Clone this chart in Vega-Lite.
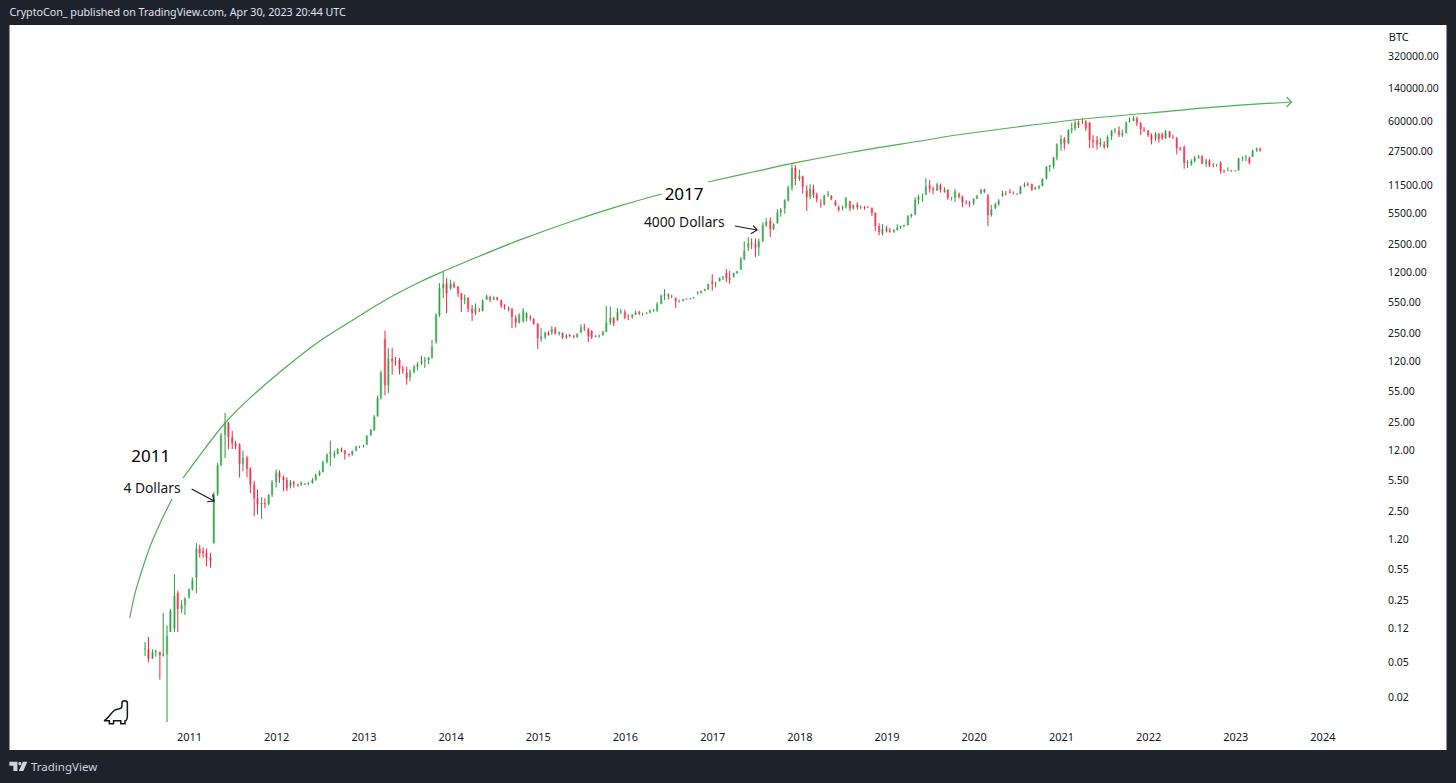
{
"$schema":"https://vega.github.io/schema/vega-lite/v6.json",
"description":"BTC weekly-style OHLC bars on a log scale with a curved top trendline",
"width":1437,"height":725,
"autosize":{"type":"none"},
"padding":{"left":9.5,"top":25,"right":9.5,"bottom":33},
"background":"#1e222d",
"config":{"view":{"fill":"white","stroke":null},"font":"Noto Sans"},
"title":{"text":"CryptoCon_ published on TradingView.com, Apr 30, 2023 20:44 UTC","anchor":"start","frame":"group","offset":6,"font":"Noto Sans","fontSize":10.7,"fontWeight":"normal","color":"#e0e3eb"},
"data":{"values":[
{"d":"2010-07-01","o":0.07,"h":0.085,"l":0.059,"c":0.072},
{"d":"2010-07-15","o":0.07,"h":0.097,"l":0.05,"c":0.055},
{"d":"2010-08-01","o":0.055,"h":0.07,"l":0.055,"c":0.065},
{"d":"2010-08-15","o":0.065,"h":0.07,"l":0.058,"c":0.067},
{"d":"2010-09-01","o":0.066,"h":0.066,"l":0.032,"c":0.06},
{"d":"2010-09-15","o":0.06,"h":0.18,"l":0.058,"c":0.062},
{"d":"2010-10-01","o":0.062,"h":0.13,"l":0.0107,"c":0.1},
{"d":"2010-10-15","o":0.11,"h":0.2,"l":0.11,"c":0.19},
{"d":"2010-11-01","o":0.12,"h":0.49,"l":0.11,"c":0.28},
{"d":"2010-11-15","o":0.3,"h":0.32,"l":0.11,"c":0.2},
{"d":"2010-12-01","o":0.2,"h":0.25,"l":0.18,"c":0.22},
{"d":"2010-12-15","o":0.22,"h":0.27,"l":0.17,"c":0.26},
{"d":"2011-01-01","o":0.27,"h":0.34,"l":0.26,"c":0.33},
{"d":"2011-01-15","o":0.33,"h":0.45,"l":0.32,"c":0.42},
{"d":"2011-02-01","o":0.45,"h":1.1,"l":0.3,"c":0.95},
{"d":"2011-02-15","o":0.95,"h":1.05,"l":0.75,"c":0.85},
{"d":"2011-03-01","o":0.9,"h":0.98,"l":0.75,"c":0.85},
{"d":"2011-03-15","o":0.85,"h":0.95,"l":0.6,"c":0.75},
{"d":"2011-04-01","o":0.75,"h":0.85,"l":0.58,"c":0.7},
{"d":"2011-04-15","o":1.1,"h":4.1,"l":1.08,"c":3.9},
{"d":"2011-05-01","o":3.9,"h":8.7,"l":3.7,"c":8.2},
{"d":"2011-05-15","o":8.2,"h":19,"l":8,"c":18},
{"d":"2011-06-01","o":18,"h":31.9,"l":9.9,"c":25},
{"d":"2011-06-15","o":25,"h":25,"l":12.4,"c":17},
{"d":"2011-07-01","o":17,"h":20,"l":12.5,"c":14.5},
{"d":"2011-07-15","o":14.5,"h":15.5,"l":12.5,"c":13.5},
{"d":"2011-08-01","o":14,"h":14.5,"l":6,"c":8.5},
{"d":"2011-08-15","o":8.5,"h":12,"l":7,"c":10},
{"d":"2011-09-01","o":10,"h":10.5,"l":6,"c":7.5},
{"d":"2011-09-15","o":7.5,"h":7.8,"l":4,"c":5},
{"d":"2011-10-01","o":5,"h":5.5,"l":2.2,"c":3.5},
{"d":"2011-10-15","o":3.5,"h":4.4,"l":2.3,"c":3},
{"d":"2011-11-01","o":3,"h":3.6,"l":2.05,"c":3.1},
{"d":"2011-11-15","o":3.1,"h":3.5,"l":2.7,"c":3},
{"d":"2011-12-01","o":3,"h":3.9,"l":2.9,"c":3.8},
{"d":"2011-12-15","o":3.8,"h":5.6,"l":3.6,"c":5.3},
{"d":"2012-01-01","o":5.3,"h":7.4,"l":4.6,"c":6.8},
{"d":"2012-01-15","o":6.8,"h":7.2,"l":5.2,"c":6},
{"d":"2012-02-01","o":6,"h":6.3,"l":4.2,"c":5.6},
{"d":"2012-02-15","o":5.6,"h":6,"l":4.2,"c":4.5},
{"d":"2012-03-01","o":4.8,"h":5.6,"l":4.5,"c":5.3},
{"d":"2012-03-15","o":5.3,"h":5.5,"l":4.6,"c":5},
{"d":"2012-04-01","o":4.9,"h":5.1,"l":4.7,"c":5},
{"d":"2012-04-15","o":5,"h":5.4,"l":4.8,"c":5.2},
{"d":"2012-05-01","o":5,"h":5.2,"l":4.9,"c":5.1},
{"d":"2012-05-15","o":5.1,"h":5.3,"l":4.9,"c":5.2},
{"d":"2012-06-01","o":5.2,"h":5.9,"l":5.1,"c":5.6},
{"d":"2012-06-15","o":5.6,"h":6.6,"l":5.5,"c":6.4},
{"d":"2012-07-01","o":6.4,"h":7.2,"l":6.2,"c":6.9},
{"d":"2012-07-15","o":6.9,"h":9.3,"l":6.8,"c":8.9},
{"d":"2012-08-01","o":8.9,"h":11.2,"l":8.6,"c":10.8},
{"d":"2012-08-15","o":11,"h":15.5,"l":8,"c":11.5},
{"d":"2012-09-01","o":10.5,"h":12,"l":9.9,"c":11},
{"d":"2012-09-15","o":11,"h":12.8,"l":10.9,"c":12.4},
{"d":"2012-10-01","o":12.4,"h":13,"l":11.5,"c":12},
{"d":"2012-10-15","o":12,"h":12.2,"l":9.5,"c":11},
{"d":"2012-11-01","o":11,"h":11.2,"l":10.2,"c":10.8},
{"d":"2012-11-15","o":10.8,"h":12,"l":10.5,"c":11.8},
{"d":"2012-12-01","o":12,"h":13.6,"l":11.8,"c":13.3},
{"d":"2012-12-15","o":13.3,"h":13.6,"l":12.8,"c":13.4},
{"d":"2013-01-01","o":13.4,"h":14,"l":13,"c":13.6},
{"d":"2013-01-15","o":14,"h":18,"l":13.8,"c":17.5},
{"d":"2013-02-01","o":18,"h":21,"l":17.5,"c":20.5},
{"d":"2013-02-15","o":20.5,"h":30,"l":20,"c":29},
{"d":"2013-03-01","o":29,"h":50,"l":29,"c":47},
{"d":"2013-03-15","o":47,"h":95,"l":45,"c":90},
{"d":"2013-04-01","o":215,"h":266,"l":50,"c":65},
{"d":"2013-04-15","o":65,"h":170,"l":53,"c":130},
{"d":"2013-05-01","o":130,"h":170,"l":85,"c":120},
{"d":"2013-05-15","o":120,"h":135,"l":108,"c":118},
{"d":"2013-06-01","o":125,"h":132,"l":86,"c":100},
{"d":"2013-06-15","o":100,"h":108,"l":88,"c":95},
{"d":"2013-07-01","o":90,"h":105,"l":66,"c":78},
{"d":"2013-07-15","o":80,"h":98,"l":72,"c":92},
{"d":"2013-08-01","o":92,"h":110,"l":88,"c":105},
{"d":"2013-08-15","o":105,"h":118,"l":95,"c":112},
{"d":"2013-09-01","o":115,"h":140,"l":110,"c":122},
{"d":"2013-09-15","o":122,"h":135,"l":102,"c":125},
{"d":"2013-10-01","o":125,"h":135,"l":112,"c":132},
{"d":"2013-10-15","o":132,"h":210,"l":130,"c":175},
{"d":"2013-11-01","o":200,"h":420,"l":190,"c":400},
{"d":"2013-11-15","o":400,"h":916,"l":380,"c":800},
{"d":"2013-12-01","o":800,"h":1219,"l":620,"c":900},
{"d":"2013-12-15","o":900,"h":1050,"l":422,"c":700},
{"d":"2014-01-01","o":800,"h":1000,"l":770,"c":900},
{"d":"2014-01-15","o":900,"h":950,"l":800,"c":830},
{"d":"2014-02-01","o":830,"h":850,"l":640,"c":700},
{"d":"2014-02-15","o":700,"h":710,"l":433,"c":600},
{"d":"2014-03-01","o":600,"h":680,"l":530,"c":620},
{"d":"2014-03-15","o":620,"h":640,"l":433,"c":470},
{"d":"2014-04-01","o":470,"h":520,"l":343,"c":420},
{"d":"2014-04-15","o":420,"h":540,"l":400,"c":480},
{"d":"2014-05-01","o":450,"h":480,"l":433,"c":445},
{"d":"2014-05-15","o":445,"h":600,"l":440,"c":580},
{"d":"2014-06-01","o":600,"h":680,"l":590,"c":650},
{"d":"2014-06-15","o":640,"h":660,"l":560,"c":590},
{"d":"2014-07-01","o":600,"h":650,"l":590,"c":630},
{"d":"2014-07-15","o":630,"h":640,"l":580,"c":600},
{"d":"2014-08-01","o":590,"h":600,"l":480,"c":510},
{"d":"2014-08-15","o":510,"h":530,"l":460,"c":500},
{"d":"2014-09-01","o":480,"h":500,"l":440,"c":470},
{"d":"2014-09-15","o":470,"h":480,"l":286,"c":380},
{"d":"2014-10-01","o":370,"h":400,"l":290,"c":330},
{"d":"2014-10-15","o":330,"h":420,"l":320,"c":400},
{"d":"2014-11-01","o":340,"h":480,"l":330,"c":450},
{"d":"2014-11-15","o":370,"h":430,"l":340,"c":420},
{"d":"2014-12-01","o":380,"h":400,"l":345,"c":370},
{"d":"2014-12-15","o":360,"h":370,"l":310,"c":320},
{"d":"2015-01-01","o":320,"h":325,"l":166,"c":220},
{"d":"2015-01-15","o":215,"h":285,"l":200,"c":230},
{"d":"2015-02-01","o":225,"h":260,"l":215,"c":255},
{"d":"2015-02-15","o":250,"h":265,"l":235,"c":240},
{"d":"2015-03-01","o":255,"h":300,"l":240,"c":280},
{"d":"2015-03-15","o":280,"h":295,"l":240,"c":250},
{"d":"2015-04-01","o":245,"h":262,"l":235,"c":255},
{"d":"2015-04-15","o":250,"h":255,"l":215,"c":225},
{"d":"2015-05-01","o":225,"h":245,"l":215,"c":235},
{"d":"2015-05-15","o":238,"h":245,"l":225,"c":232},
{"d":"2015-06-01","o":230,"h":240,"l":220,"c":225},
{"d":"2015-06-15","o":226,"h":250,"l":222,"c":245},
{"d":"2015-07-01","o":255,"h":315,"l":250,"c":290},
{"d":"2015-07-15","o":290,"h":320,"l":265,"c":285},
{"d":"2015-08-01","o":280,"h":285,"l":199,"c":230},
{"d":"2015-08-15","o":265,"h":270,"l":215,"c":225},
{"d":"2015-09-01","o":228,"h":240,"l":225,"c":232},
{"d":"2015-09-15","o":232,"h":240,"l":222,"c":236},
{"d":"2015-10-01","o":237,"h":265,"l":235,"c":260},
{"d":"2015-10-15","o":260,"h":506,"l":258,"c":330},
{"d":"2015-11-01","o":330,"h":500,"l":310,"c":370},
{"d":"2015-11-15","o":370,"h":380,"l":300,"c":320},
{"d":"2015-12-01","o":350,"h":480,"l":345,"c":430},
{"d":"2015-12-15","o":430,"h":470,"l":410,"c":440},
{"d":"2016-01-01","o":430,"h":460,"l":360,"c":375},
{"d":"2016-01-15","o":385,"h":410,"l":350,"c":380},
{"d":"2016-02-01","o":375,"h":410,"l":365,"c":405},
{"d":"2016-02-15","o":405,"h":450,"l":400,"c":430},
{"d":"2016-03-01","o":435,"h":445,"l":400,"c":415},
{"d":"2016-03-15","o":415,"h":425,"l":395,"c":415},
{"d":"2016-04-01","o":416,"h":430,"l":410,"c":425},
{"d":"2016-04-15","o":425,"h":460,"l":420,"c":450},
{"d":"2016-05-01","o":450,"h":470,"l":435,"c":455},
{"d":"2016-05-15","o":450,"h":560,"l":433,"c":530},
{"d":"2016-06-01","o":530,"h":680,"l":530,"c":660},
{"d":"2016-06-15","o":660,"h":780,"l":590,"c":680},
{"d":"2016-07-01","o":680,"h":700,"l":600,"c":650},
{"d":"2016-07-15","o":650,"h":680,"l":620,"c":660},
{"d":"2016-08-01","o":620,"h":630,"l":480,"c":570},
{"d":"2016-08-15","o":570,"h":600,"l":550,"c":575},
{"d":"2016-09-01","o":575,"h":610,"l":570,"c":600},
{"d":"2016-09-15","o":600,"h":615,"l":595,"c":610},
{"d":"2016-10-01","o":605,"h":625,"l":600,"c":620},
{"d":"2016-10-15","o":620,"h":640,"l":610,"c":630},
{"d":"2016-11-01","o":700,"h":745,"l":680,"c":715},
{"d":"2016-11-15","o":715,"h":760,"l":695,"c":745},
{"d":"2016-12-01","o":750,"h":790,"l":745,"c":775},
{"d":"2016-12-15","o":775,"h":900,"l":770,"c":890},
{"d":"2017-01-01","o":960,"h":1150,"l":750,"c":900},
{"d":"2017-01-15","o":900,"h":950,"l":820,"c":920},
{"d":"2017-02-01","o":970,"h":1060,"l":950,"c":1040},
{"d":"2017-02-15","o":1040,"h":1100,"l":990,"c":1080},
{"d":"2017-03-01","o":1190,"h":1318,"l":942,"c":1040},
{"d":"2017-03-15","o":1040,"h":1250,"l":900,"c":1000},
{"d":"2017-04-01","o":1080,"h":1200,"l":1050,"c":1180},
{"d":"2017-04-15","o":1180,"h":1260,"l":1160,"c":1240},
{"d":"2017-05-01","o":1300,"h":1800,"l":1280,"c":1700},
{"d":"2017-05-15","o":1700,"h":2700,"l":1650,"c":2100},
{"d":"2017-06-01","o":2300,"h":2980,"l":2100,"c":2550},
{"d":"2017-06-15","o":2550,"h":2900,"l":2200,"c":2500},
{"d":"2017-07-01","o":2500,"h":2900,"l":1800,"c":2300},
{"d":"2017-07-15","o":2300,"h":2900,"l":1850,"c":2700},
{"d":"2017-08-01","o":2700,"h":4400,"l":2650,"c":4100},
{"d":"2017-08-15","o":4100,"h":4900,"l":3900,"c":4500},
{"d":"2017-09-01","o":4600,"h":5000,"l":3000,"c":3700},
{"d":"2017-09-15","o":3700,"h":4300,"l":3600,"c":4200},
{"d":"2017-10-01","o":4300,"h":6200,"l":4250,"c":5700},
{"d":"2017-10-15","o":5700,"h":6400,"l":5100,"c":6100},
{"d":"2017-11-01","o":6400,"h":8000,"l":5500,"c":7800},
{"d":"2017-11-15","o":7800,"h":11400,"l":7500,"c":10800},
{"d":"2017-12-01","o":10800,"h":19800,"l":10000,"c":18000},
{"d":"2017-12-15","o":18000,"h":19400,"l":11500,"c":13500},
{"d":"2018-01-01","o":13500,"h":17200,"l":12800,"c":14500},
{"d":"2018-01-15","o":14500,"h":14700,"l":9200,"c":11000},
{"d":"2018-02-01","o":10000,"h":11500,"l":5900,"c":8500},
{"d":"2018-02-15","o":8500,"h":11800,"l":8000,"c":10500},
{"d":"2018-03-01","o":10500,"h":11700,"l":8300,"c":9000},
{"d":"2018-03-15","o":9000,"h":9500,"l":7400,"c":8000},
{"d":"2018-04-01","o":7000,"h":8000,"l":6400,"c":6900},
{"d":"2018-04-15","o":7000,"h":9000,"l":6800,"c":8800},
{"d":"2018-05-01","o":9000,"h":9900,"l":8500,"c":9200},
{"d":"2018-05-15","o":8700,"h":8900,"l":7800,"c":8000},
{"d":"2018-06-01","o":7500,"h":7800,"l":6700,"c":6800},
{"d":"2018-06-15","o":6500,"h":6800,"l":5800,"c":6100},
{"d":"2018-07-01","o":6300,"h":6800,"l":6000,"c":6500},
{"d":"2018-07-15","o":6500,"h":8500,"l":6300,"c":8200},
{"d":"2018-08-01","o":7600,"h":7700,"l":5900,"c":6300},
{"d":"2018-08-15","o":6300,"h":7000,"l":6100,"c":6900},
{"d":"2018-09-01","o":7000,"h":7400,"l":6100,"c":6500},
{"d":"2018-09-15","o":6500,"h":6800,"l":6200,"c":6600},
{"d":"2018-10-01","o":6600,"h":6700,"l":6100,"c":6450},
{"d":"2018-10-15","o":6450,"h":6700,"l":6350,"c":6400},
{"d":"2018-11-01","o":6350,"h":6500,"l":5200,"c":5600},
{"d":"2018-11-15","o":5600,"h":5700,"l":3500,"c":4000},
{"d":"2018-12-01","o":4000,"h":4300,"l":3150,"c":3400},
{"d":"2018-12-15","o":3300,"h":4200,"l":3150,"c":3700},
{"d":"2019-01-01","o":3700,"h":4000,"l":3400,"c":3550},
{"d":"2019-01-15","o":3550,"h":3800,"l":3350,"c":3450},
{"d":"2019-02-01","o":3450,"h":3700,"l":3350,"c":3600},
{"d":"2019-02-15","o":3600,"h":4200,"l":3550,"c":3850},
{"d":"2019-03-01","o":3850,"h":4050,"l":3700,"c":4000},
{"d":"2019-03-15","o":4000,"h":4150,"l":3900,"c":4100},
{"d":"2019-04-01","o":4100,"h":5300,"l":4050,"c":5200},
{"d":"2019-04-15","o":5200,"h":5500,"l":4950,"c":5400},
{"d":"2019-05-01","o":5400,"h":8400,"l":5300,"c":7900},
{"d":"2019-05-15","o":7900,"h":9000,"l":7000,"c":8500},
{"d":"2019-06-01","o":8600,"h":9300,"l":7500,"c":8700},
{"d":"2019-06-15","o":9000,"h":13800,"l":8900,"c":11200},
{"d":"2019-07-01","o":11500,"h":13200,"l":9500,"c":10500},
{"d":"2019-07-15","o":10500,"h":11100,"l":9100,"c":10100},
{"d":"2019-08-01","o":10000,"h":12300,"l":9900,"c":11800},
{"d":"2019-08-15","o":11500,"h":12000,"l":9500,"c":10200},
{"d":"2019-09-01","o":9600,"h":10900,"l":9500,"c":10300},
{"d":"2019-09-15","o":10200,"h":10400,"l":7850,"c":8300},
{"d":"2019-10-01","o":8300,"h":8500,"l":7700,"c":8300},
{"d":"2019-10-15","o":8300,"h":10500,"l":7400,"c":9800},
{"d":"2019-11-01","o":9200,"h":9500,"l":8200,"c":8500},
{"d":"2019-11-15","o":8500,"h":8800,"l":6500,"c":7400},
{"d":"2019-12-01","o":7400,"h":7800,"l":7000,"c":7300},
{"d":"2019-12-15","o":7300,"h":7700,"l":6500,"c":7200},
{"d":"2020-01-01","o":7200,"h":8200,"l":6850,"c":8100},
{"d":"2020-01-15","o":8100,"h":9000,"l":8050,"c":8700},
{"d":"2020-02-01","o":9300,"h":10500,"l":9100,"c":10200},
{"d":"2020-02-15","o":10200,"h":10500,"l":9400,"c":9700},
{"d":"2020-03-01","o":8800,"h":9200,"l":4000,"c":5300},
{"d":"2020-03-15","o":5300,"h":6900,"l":5100,"c":6200},
{"d":"2020-04-01","o":6400,"h":7300,"l":6200,"c":7000},
{"d":"2020-04-15","o":7000,"h":8000,"l":6800,"c":7700},
{"d":"2020-05-01","o":8700,"h":10000,"l":8500,"c":9300},
{"d":"2020-05-15","o":9300,"h":9900,"l":8800,"c":9200},
{"d":"2020-06-01","o":9700,"h":10400,"l":9300,"c":9500},
{"d":"2020-06-15","o":9400,"h":9800,"l":9100,"c":9300},
{"d":"2020-07-01","o":9150,"h":9400,"l":8900,"c":9200},
{"d":"2020-07-15","o":9200,"h":11400,"l":9100,"c":11000},
{"d":"2020-08-01","o":11300,"h":12400,"l":10900,"c":11700},
{"d":"2020-08-15","o":11800,"h":12500,"l":11200,"c":11500},
{"d":"2020-09-01","o":11900,"h":12000,"l":9900,"c":10300},
{"d":"2020-09-15","o":10400,"h":11100,"l":10200,"c":10800},
{"d":"2020-10-01","o":10700,"h":11500,"l":10300,"c":11300},
{"d":"2020-10-15","o":11300,"h":13800,"l":11200,"c":13500},
{"d":"2020-11-01","o":13700,"h":18900,"l":13300,"c":18500},
{"d":"2020-11-15","o":18500,"h":19500,"l":16300,"c":19200},
{"d":"2020-12-01","o":19000,"h":24000,"l":17600,"c":23500},
{"d":"2020-12-15","o":23500,"h":34000,"l":21900,"c":33000},
{"d":"2021-01-01","o":33000,"h":42000,"l":28000,"c":38000},
{"d":"2021-01-15","o":38000,"h":40000,"l":28800,"c":34000},
{"d":"2021-02-01","o":34000,"h":49000,"l":33000,"c":48000},
{"d":"2021-02-15","o":48000,"h":58000,"l":44000,"c":50000},
{"d":"2021-03-01","o":50000,"h":61000,"l":47000,"c":58000},
{"d":"2021-03-15","o":58000,"h":61500,"l":50500,"c":55000},
{"d":"2021-04-01","o":59000,"h":64800,"l":56000,"c":60000},
{"d":"2021-04-15","o":60000,"h":62000,"l":47000,"c":50000},
{"d":"2021-05-01","o":58000,"h":59000,"l":30000,"c":37000},
{"d":"2021-05-15","o":37000,"h":42000,"l":30000,"c":35000},
{"d":"2021-06-01","o":37000,"h":41000,"l":28900,"c":33000},
{"d":"2021-06-15","o":33000,"h":39000,"l":31000,"c":35000},
{"d":"2021-07-01","o":33000,"h":36000,"l":29300,"c":31000},
{"d":"2021-07-15","o":31000,"h":42000,"l":30000,"c":40000},
{"d":"2021-08-01","o":41000,"h":48000,"l":37000,"c":47000},
{"d":"2021-08-15","o":47000,"h":50500,"l":44000,"c":48500},
{"d":"2021-09-01","o":47000,"h":52900,"l":40000,"c":42000},
{"d":"2021-09-15","o":42000,"h":48500,"l":40000,"c":44000},
{"d":"2021-10-01","o":44000,"h":60000,"l":44000,"c":58000},
{"d":"2021-10-15","o":59000,"h":67000,"l":58000,"c":61000},
{"d":"2021-11-01","o":61000,"h":69000,"l":60000,"c":65000},
{"d":"2021-11-15","o":65000,"h":68000,"l":53000,"c":57000},
{"d":"2021-12-01","o":57000,"h":59000,"l":42000,"c":49000},
{"d":"2021-12-15","o":49000,"h":52000,"l":45500,"c":47500},
{"d":"2022-01-01","o":47000,"h":48000,"l":40000,"c":42000},
{"d":"2022-01-15","o":42000,"h":44000,"l":33000,"c":37000},
{"d":"2022-02-01","o":38500,"h":45500,"l":36000,"c":43500},
{"d":"2022-02-15","o":43500,"h":44500,"l":34500,"c":38000},
{"d":"2022-03-01","o":43000,"h":45000,"l":37000,"c":39000},
{"d":"2022-03-15","o":39000,"h":48000,"l":38000,"c":46500},
{"d":"2022-04-01","o":46000,"h":47000,"l":39000,"c":40000},
{"d":"2022-04-15","o":40000,"h":42500,"l":38000,"c":39500},
{"d":"2022-05-01","o":38500,"h":40000,"l":25500,"c":30000},
{"d":"2022-05-15","o":30000,"h":31000,"l":28000,"c":29500},
{"d":"2022-06-01","o":31000,"h":32000,"l":17600,"c":20500},
{"d":"2022-06-15","o":20500,"h":22000,"l":18000,"c":21000},
{"d":"2022-07-01","o":20000,"h":22500,"l":19000,"c":21500},
{"d":"2022-07-15","o":21500,"h":24500,"l":20700,"c":23500},
{"d":"2022-08-01","o":23500,"h":25200,"l":22700,"c":24300},
{"d":"2022-08-15","o":24300,"h":25000,"l":19800,"c":20000},
{"d":"2022-09-01","o":20000,"h":22800,"l":18500,"c":21800},
{"d":"2022-09-15","o":21800,"h":22500,"l":18300,"c":19000},
{"d":"2022-10-01","o":19500,"h":20500,"l":18200,"c":19400},
{"d":"2022-10-15","o":19400,"h":20000,"l":18600,"c":19500},
{"d":"2022-11-01","o":20500,"h":21400,"l":15500,"c":16500},
{"d":"2022-11-15","o":16500,"h":17200,"l":15800,"c":16300},
{"d":"2022-12-01","o":17000,"h":18300,"l":16400,"c":17000},
{"d":"2022-12-15","o":16900,"h":17100,"l":16300,"c":16600},
{"d":"2023-01-01","o":16600,"h":17000,"l":16400,"c":16900},
{"d":"2023-01-15","o":16900,"h":23400,"l":16800,"c":23100},
{"d":"2023-02-01","o":23100,"h":24300,"l":21500,"c":23500},
{"d":"2023-02-15","o":23500,"h":25300,"l":21400,"c":24000},
{"d":"2023-03-01","o":23500,"h":24000,"l":19700,"c":20500},
{"d":"2023-03-15","o":24000,"h":28900,"l":23900,"c":28000},
{"d":"2023-04-01","o":28300,"h":30500,"l":27100,"c":29500},
{"d":"2023-04-15","o":29500,"h":30500,"l":27300,"c":28400}
]},
"encoding":{
"x":{"field":"d","type":"temporal",
"scale":{"type":"utc","domain":[{"year":2008,"month":12,"date":10,"utc":true},{"year":2025,"month":6,"date":4,"utc":true}]},
"axis":{"title":"TradingView","titleX":21,"titleY":17,"titleAlign":"left","titleBaseline":"middle","titleFont":"Noto Sans","titleFontSize":11.5,"titleFontWeight":"normal","titleColor":"#d1d4dc",
"domain":false,"ticks":false,"grid":false,"labelPadding":-19,"labelFontSize":11,"labelColor":"#131722","labelFont":"Noto Sans","format":"%Y","labelOverlap":false,
"values":[{"year":2011,"month":1,"date":1,"utc":true},{"year":2012,"month":1,"date":1,"utc":true},{"year":2013,"month":1,"date":1,"utc":true},{"year":2014,"month":1,"date":1,"utc":true},{"year":2015,"month":1,"date":1,"utc":true},{"year":2016,"month":1,"date":1,"utc":true},{"year":2017,"month":1,"date":1,"utc":true},{"year":2018,"month":1,"date":1,"utc":true},{"year":2019,"month":1,"date":1,"utc":true},{"year":2020,"month":1,"date":1,"utc":true},{"year":2021,"month":1,"date":1,"utc":true},{"year":2022,"month":1,"date":1,"utc":true},{"year":2023,"month":1,"date":1,"utc":true},{"year":2024,"month":1,"date":1,"utc":true}]}}
},
"layer":[
{"mark":{"type":"rule","strokeWidth":2.4},
"encoding":{
"y":{"field":"o","type":"quantitative",
"scale":{"type":"log","domain":[0.00519,726000],"nice":false},
"axis":{"title":null,"orient":"right","domain":false,"ticks":false,"grid":false,"labelPadding":-59,"labelAlign":"left","labelFontSize":10.5,"labelColor":"#131722","labelFont":"Noto Sans","format":".2f","labelOverlap":false,
"values":[320000,140000,60000,27500,11500,5500,2500,1200,550,250,120,55,25,12,5.5,2.5,1.2,0.55,0.25,0.12,0.05,0.02]}},
"y2":{"field":"c"},
"color":{"condition":{"test":"datum.c>=datum.o","value":"#8fd29a"},"value":"#fb8ba0"}}},
{"mark":{"type":"rule","strokeWidth":1},
"encoding":{
"y":{"field":"l","type":"quantitative"},
"y2":{"field":"h"},
"color":{"condition":{"test":"datum.c>=datum.o","value":"#2a9a3c"},"value":"#f7233f"}}},
{"data":{"values":[
{"s":"a","d":"2010-04-28","p":0.158},{"s":"a","d":"2010-05-19","p":0.294},{"s":"a","d":"2010-06-09","p":0.456},{"s":"a","d":"2010-07-21","p":0.991},{"s":"a","d":"2010-09-14","p":2.15},{"s":"a","d":"2010-10-22","p":3.43},
{"s":"b","d":"2010-12-07","p":5.9},{"s":"b","d":"2011-02-16","p":10.7},{"s":"b","d":"2011-06-01","p":24.5},{"s":"b","d":"2011-09-05","p":44.5},{"s":"b","d":"2012-01-17","p":91.6},{"s":"b","d":"2012-07-02","p":204},{"s":"b","d":"2012-11-18","p":352},{"s":"b","d":"2013-04-10","p":605},{"s":"b","d":"2013-08-25","p":940},{"s":"b","d":"2013-11-25","p":1219},{"s":"b","d":"2014-03-24","p":1663},{"s":"b","d":"2014-10-18","p":2793},{"s":"b","d":"2015-05-15","p":4446},{"s":"b","d":"2015-12-10","p":6730},{"s":"b","d":"2016-06-03","p":9160},
{"s":"c","d":"2016-12-14","p":12500},{"s":"c","d":"2017-06-20","p":16180},{"s":"c","d":"2017-12-13","p":20460},{"s":"c","d":"2018-08-12","p":27160},{"s":"c","d":"2019-06-18","p":37070},{"s":"c","d":"2019-09-23","p":41100},{"s":"c","d":"2020-06-30","p":51900},{"s":"c","d":"2021-04-03","p":63800},{"s":"c","d":"2022-01-08","p":74470},{"s":"c","d":"2022-10-16","p":87100},{"s":"c","d":"2023-08-25","p":99080}
]},
"mark":{"type":"line","color":"#4caf50","strokeWidth":1.2,"interpolate":"catmull-rom"},
"encoding":{"y":{"field":"p","type":"quantitative"},"detail":{"field":"s"}}},
{"data":{"values":[
{"i":1,"d":"2023-08-04","p":112700},{"i":2,"d":"2023-08-25","p":99080},{"i":3,"d":"2023-08-04","p":87100}
]},
"mark":{"type":"line","color":"#4caf50","strokeWidth":1.2},
"encoding":{"y":{"field":"p","type":"quantitative"},"order":{"field":"i"}}},
{"data":{"values":[
{"s":"a","i":1,"d":"2011-01-12","p":4.45},{"s":"a","i":2,"d":"2011-04-16","p":3.26},
{"s":"b","i":1,"d":"2011-03-18","p":3.2},{"s":"b","i":2,"d":"2011-04-16","p":3.26},{"s":"b","i":3,"d":"2011-04-10","p":3.87},
{"s":"c","i":1,"d":"2017-04-06","p":4009},{"s":"c","i":2,"d":"2017-07-08","p":3614},
{"s":"d","i":1,"d":"2017-06-12","p":3281},{"s":"d","i":2,"d":"2017-07-08","p":3614},{"s":"d","i":3,"d":"2017-06-21","p":4036}
]},
"mark":{"type":"line","color":"#131722","strokeWidth":1.1},
"encoding":{"y":{"field":"p","type":"quantitative"},"detail":{"field":"s"},"order":{"field":"i"}}},
{"data":{"values":[{"d":"2010-07-25","p":10.2,"t":"2011"},{"d":"2016-09-05","p":8900,"t":"2017"}]},
"mark":{"type":"text","fontSize":17,"color":"#000000","font":"Noto Sans","align":"center","baseline":"middle"},
"encoding":{"y":{"field":"p","type":"quantitative"},"text":{"field":"t"}}},
{"data":{"values":[{"d":"2010-07-30","p":4.45,"t":"4 Dollars"},{"d":"2016-09-06","p":4335,"t":"4000 Dollars"}]},
"mark":{"type":"text","fontSize":13.8,"color":"#131722","font":"Noto Sans","align":"center","baseline":"middle"},
"encoding":{"y":{"field":"p","type":"quantitative"},"text":{"field":"t"}}},
{"data":{"values":[{"d":"2024-10-05","p":518800,"t":"BTC"}]},
"mark":{"type":"text","fontSize":11,"color":"#131722","font":"Noto Sans","align":"left","baseline":"middle"},
"encoding":{"y":{"field":"p","type":"quantitative"},"text":{"field":"t"}}},
{"data":{"values":[{"d":"2010-03-01","p":0.01387}]},
"mark":{"type":"point","shape":"M-1,.72C-.6,.55-.4,0-.1,-.15C.2,-.3.45,-.2.5,-.45L.5,-.75C.5,-1 .95,-1 .95,-.75L.95,.3C.95,.6.85,.75.75,.75L.75,.98L.4,.98L.4,.72L-.2,.72L-.2,.98L-.55,.98L-.55,.72Z","size":576,"filled":false,"stroke":"#131722","strokeWidth":1.5,"opacity":1},
"encoding":{"y":{"field":"p","type":"quantitative"}}},
{"data":{"values":[{"d":"2009-01-16","p":0.0034}]},
"mark":{"type":"point","shape":"M-1,-.5H-.1V.52H-.55V-.08H-1ZM0,-.3a.17,.17 0 1 0 .34,0a.17,.17 0 1 0 -.34,0ZM.5,-.5H1L.55,.52H.05Z","size":324,"filled":true,"fill":"#d1d4dc","strokeWidth":0,"opacity":1},
"encoding":{"y":{"field":"p","type":"quantitative"}}}
]
}
